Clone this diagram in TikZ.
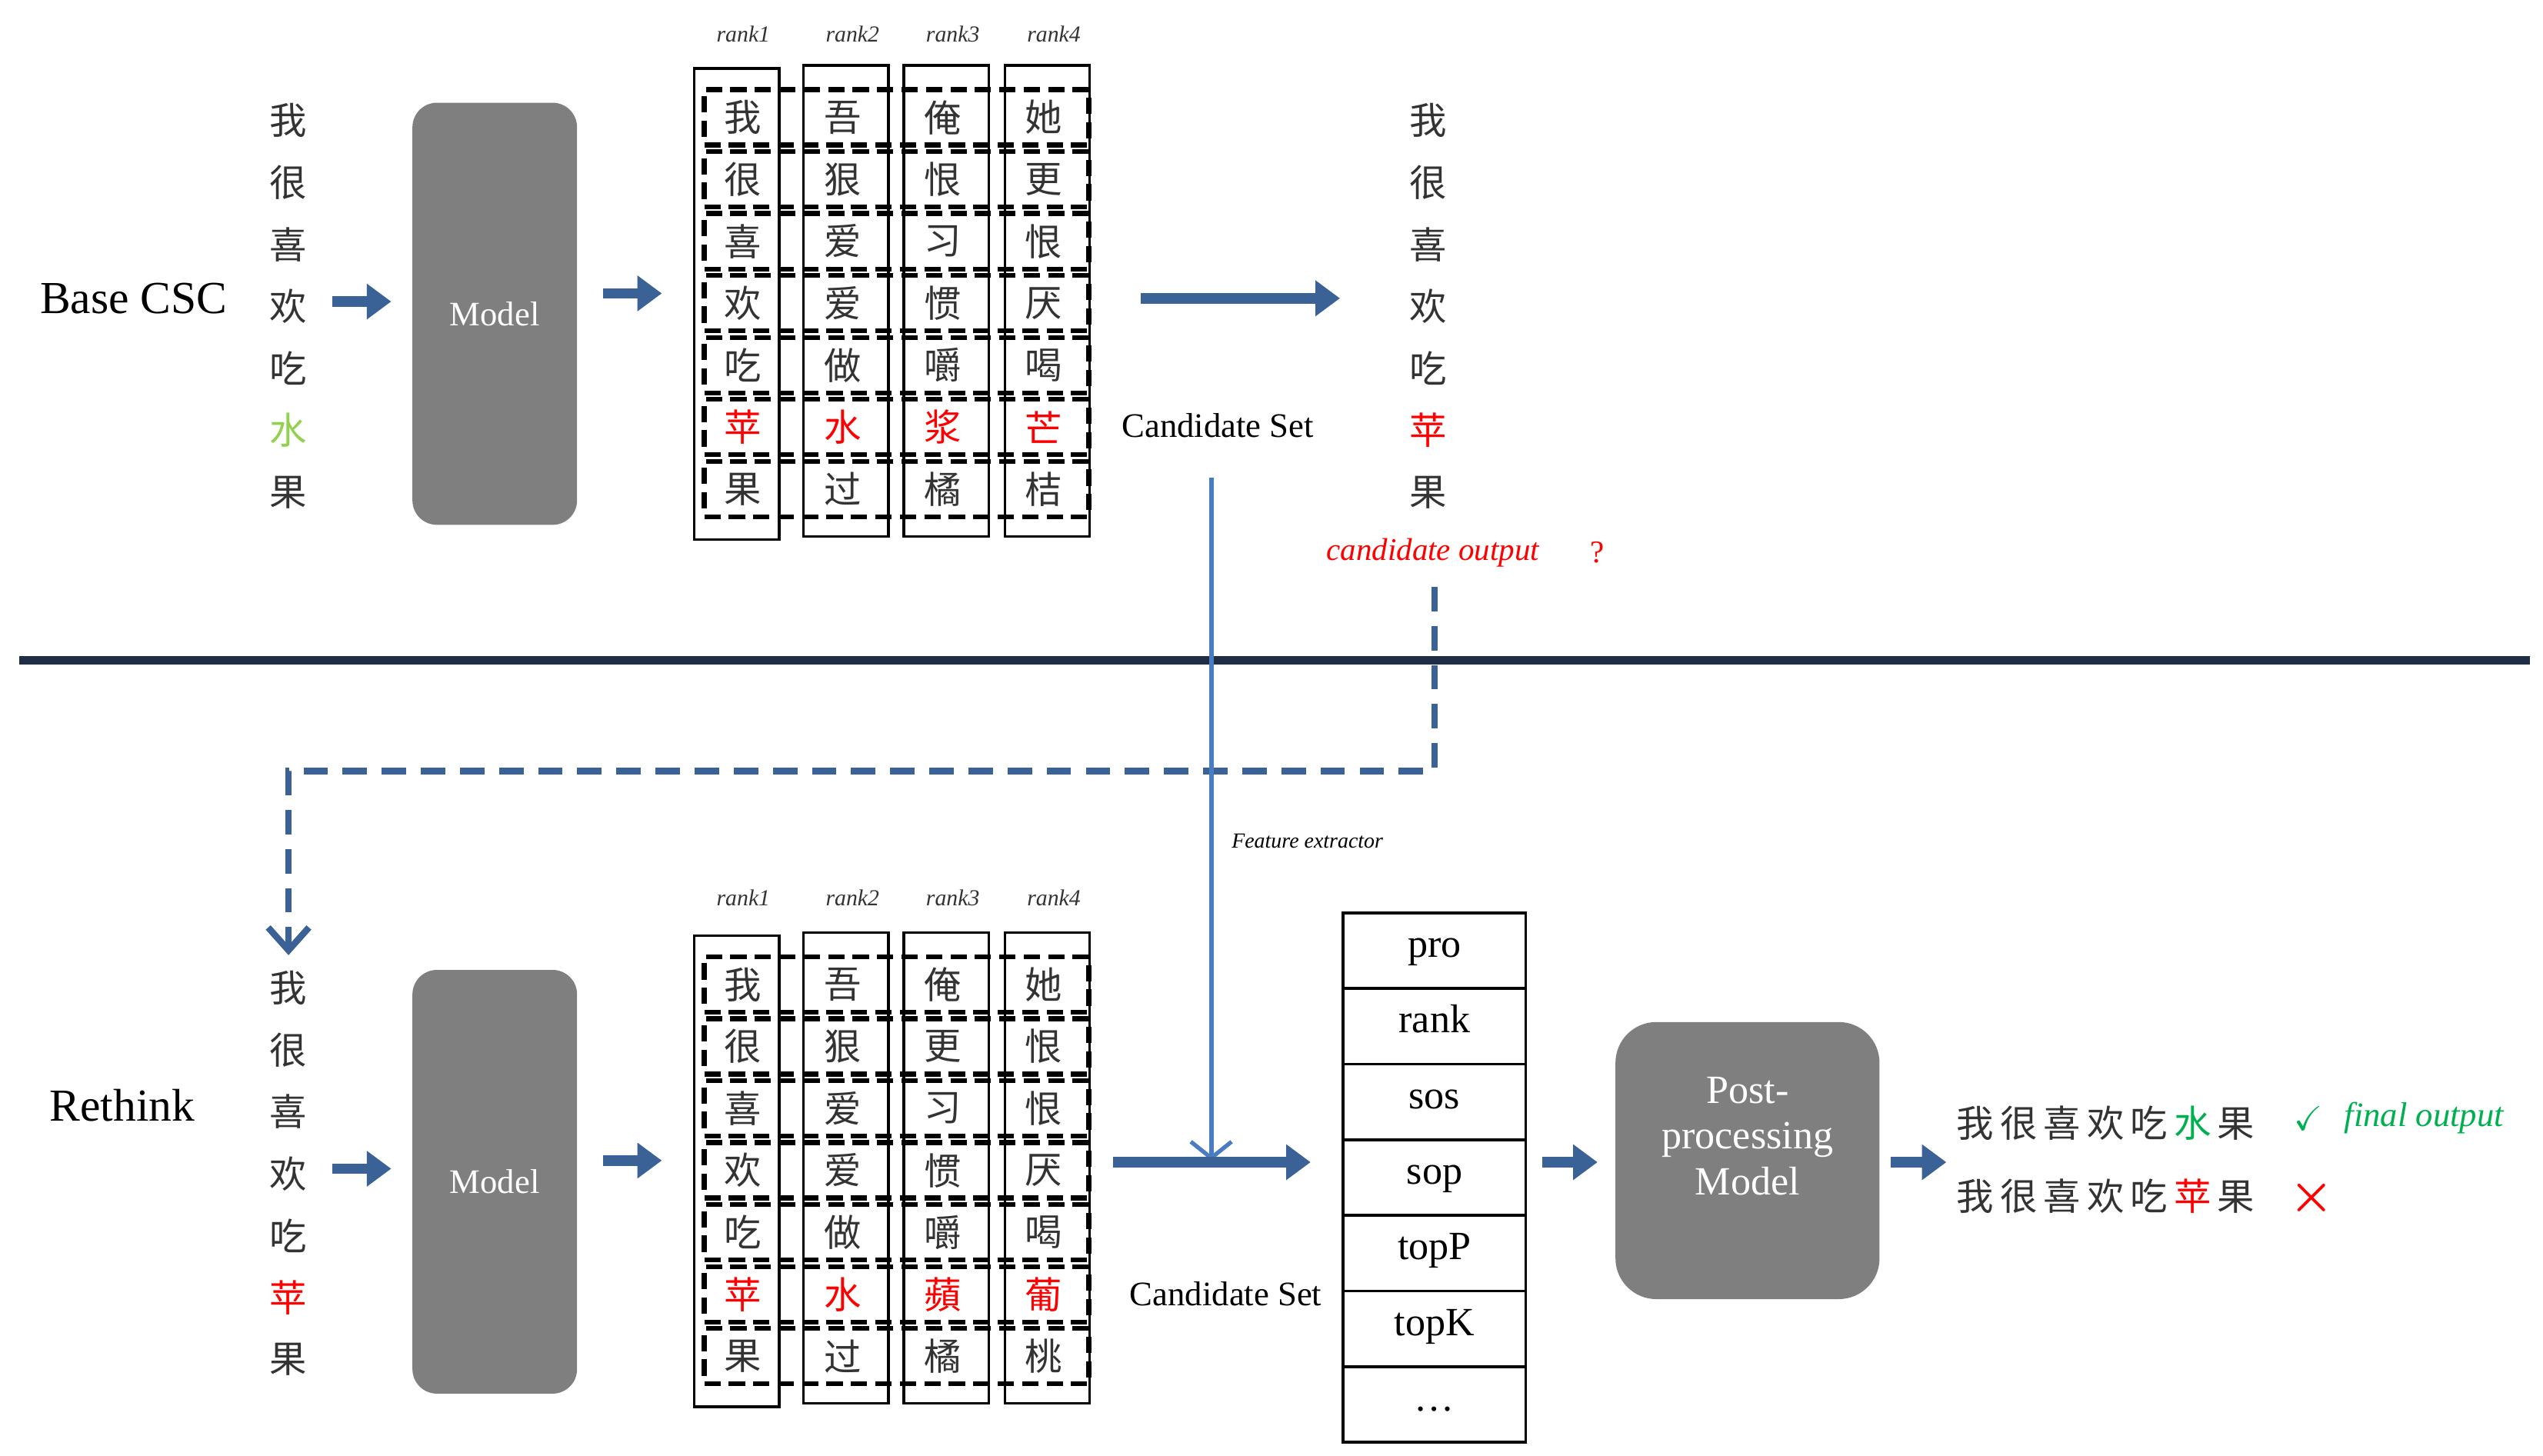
\documentclass[tikz,border=0pt]{standalone}
\usepackage{amsmath,amssymb}
\usepackage{fontspec}
\setmainfont{Liberation Serif}
\newfontfamily\cjk{Noto Sans CJK SC}
\usetikzlibrary{arrows.meta}
\definecolor{navy}{HTML}{1F2D45}
\definecolor{arrowblue}{HTML}{3B6296}
\definecolor{lineblue}{HTML}{4A7CC2}
\definecolor{boxgray}{HTML}{7F7F7F}
\definecolor{lightgreen}{HTML}{92D050}
\definecolor{okgreen}{HTML}{00B050}

\tikzset{
  hz/.style={font=\cjk\fontsize{13}{13}\selectfont, text=black!80, inner sep=0pt},
  model/.style={fill=boxgray, draw=none, rounded corners=0.3cm, text=white, align=center},
  fat/.style={arrowblue, line width=0.13cm, -{Triangle[length=0.3cm, width=0.42cm]}},
  cell/.style={draw=black, line width=1.7pt, dash pattern=on 0.2cm off 0.1cm, minimum width=4.72cm, minimum height=0.68cm, inner sep=0pt},
  col/.style={draw=black, line width=0.9pt, minimum width=1.04cm, inner sep=0pt},
  rk/.style={font=\fontsize{8}{8}\selectfont\itshape, text=black!80},
  feat/.style={draw=black, line width=1pt, minimum width=2.24cm, minimum height=0.928cm, text height=1.5ex, text depth=0.5ex, font=\fontsize{14}{14}\selectfont, inner sep=0pt}
}

\begin{document}
\begin{tikzpicture}[x=0.02cm, y=-0.02cm]
\useasboundingbox (0,0) rectangle (1560,893);

% separator
\draw[navy, line width=0.1cm] (12,405) -- (1552,405);

% ---- base CSC ----
\node[font=\fontsize{16}{16}\selectfont] (base) at (82,183) {Base CSC};
\foreach \c [count=\i] in {我,很,喜,欢,吃,{\color{lightgreen}水},果}
  \node[hz] (in1-\i) at (177,36+38*\i) {\c};
\node[model, minimum width=2.02cm, minimum height=5.18cm, font=\fontsize{12}{12}\selectfont] (model1) at (303.5,192.5) {Model};
\coordinate (a1s) at (204,185); \coordinate (a1e) at (240,185);
\draw[fat] (a1s) -- (a1e);
\coordinate (a2s) at (370,180); \coordinate (a2e) at (406,180);
\draw[fat] (a2s) -- (a2e);

\foreach \x/\y [count=\j] in {452/186.5, 519/184.5, 580.5/184.5, 642.5/184.5}{
  \node[col, minimum height=5.78cm] (c1-\j) at (\x,\y) {};
  \node[rk] (r1-\j) at (\x+4,21) {rank\j};
}
\foreach \r [count=\i] in {{我,吾,俺,她},{很,狠,恨,更},{喜,爱,习,恨},{欢,爱,惯,厌},{吃,做,嚼,喝},{苹,水,浆,芒},{果,过,橘,桔}}{
  \node[cell] (row1-\i) at (550,34+38*\i) {};
  \foreach \c [count=\j] in \r
    \node[hz] (g1-\i-\j) at (394+61.5*\j,34+38*\i) {\ifnum\i=6\color{red}\fi\c};
}
\coordinate (a3s) at (700,183); \coordinate (a3e) at (822,183);
\draw[fat] (a3s) -- (a3e);
\node[font=\fontsize{12}{12}\selectfont] (cand1) at (747,261) {Candidate Set};

\foreach \c [count=\i] in {我,很,喜,欢,吃,{\color{red}苹},果}
  \node[hz] (out1-\i) at (876,36+38*\i) {\c};
\node[font=\fontsize{11}{11}\selectfont\itshape, text=red] (candout) at (879,339) {candidate output};
\node[font=\fontsize{11}{11}\selectfont, text=red] (qm) at (980,339) {?};

% feedback and feature extractor
\coordinate (fb0) at (880,360); \coordinate (fb1) at (880,473);
\coordinate (fb2) at (177,473); \coordinate (fb3) at (177,586);
\draw[arrowblue, line width=0.08cm, dash pattern=on 0.3cm off 0.18cm,
      -{Straight Barb[length=0.28cm, width=0.5cm, line width=0.08cm]}]
  (fb0) -- (fb1) -- (fb2) -- (fb3);
\coordinate (fe0) at (743,293); \coordinate (fe1) at (743,712);
\draw[lineblue, line width=0.055cm, -{Straight Barb[length=0.2cm, width=0.5cm, line width=0.05cm]}] (fe0) -- (fe1);
\node[font=\fontsize{7.5}{7.5}\selectfont\itshape] (fex) at (802,516) {Feature extractor};

% ---- rethink ----
\node[font=\fontsize{16}{16}\selectfont] (re) at (75,678) {Rethink};
\foreach \c [count=\i] in {我,很,喜,欢,吃,{\color{red}苹},果}
  \node[hz] (in2-\i) at (177,568+38*\i) {\c};
\node[model, minimum width=2.02cm, minimum height=5.2cm, font=\fontsize{12}{12}\selectfont] (model2) at (303.5,725) {Model};
\coordinate (b1s) at (204,717); \coordinate (b1e) at (240,717);
\draw[fat] (b1s) -- (b1e);
\coordinate (b2s) at (370,712); \coordinate (b2e) at (406,712);
\draw[fat] (b2s) -- (b2e);

\foreach \x/\y [count=\j] in {452/718.5, 519/716.5, 580.5/716.5, 642.5/716.5}{
  \node[col, minimum height=5.78cm] (c2-\j) at (\x,\y) {};
  \node[rk] (r2-\j) at (\x+4,551) {rank\j};
}
\foreach \r [count=\i] in {{我,吾,俺,她},{很,狠,更,恨},{喜,爱,习,恨},{欢,爱,惯,厌},{吃,做,嚼,喝},{苹,水,蘋,葡},{果,过,橘,桃}}{
  \node[cell] (row2-\i) at (550,566+38*\i) {};
  \foreach \c [count=\j] in \r
    \node[hz] (g2-\i-\j) at (394+61.5*\j,566+38*\i) {\ifnum\i=6\color{red}\fi\c};
}
\coordinate (b3s) at (683,713); \coordinate (b3e) at (804,713);
\draw[fat] (b3s) -- (b3e);
\node[font=\fontsize{12}{12}\selectfont] (cand2) at (752,794) {Candidate Set};

\foreach \t [count=\i] in {pro,rank,sos,sop,topP,topK,\dots}
  \node[feat] (f-\i) at (880,560+46.4*\i-23.2) {\t};

\coordinate (b4s) at (946,713); \coordinate (b4e) at (980,713);
\draw[fat] (b4s) -- (b4e);
\node[model, minimum width=3.24cm, minimum height=3.4cm, rounded corners=0.5cm] (post) at (1072,712) {};
\node[text=white, align=center, font=\fontsize{14}{16}\selectfont] (posttxt) at (1072,697) {Post-\\processing\\Model};
\coordinate (b5s) at (1160,713); \coordinate (b5e) at (1194,713);
\draw[fat] (b5s) -- (b5e);

\node[hz, anchor=west] (res1) at (1200,689) {我\,很\,喜\,欢\,吃\,{\color{okgreen}水}\,果};
\node[text=okgreen, font=\fontsize{12}{12}\selectfont] (ok) at (1416,686) {$\checkmark$};
\node[text=okgreen, font=\fontsize{12}{12}\selectfont\itshape] (fin) at (1487,686) {final output};
\node[hz, anchor=west] (res2) at (1200,734) {我\,很\,喜\,欢\,吃\,{\color{red}苹}\,果};
\node[text=red, font=\fontsize{18}{18}\selectfont] (bad) at (1418,735) {$\boldsymbol{\times}$};
\end{tikzpicture}
\end{document}
